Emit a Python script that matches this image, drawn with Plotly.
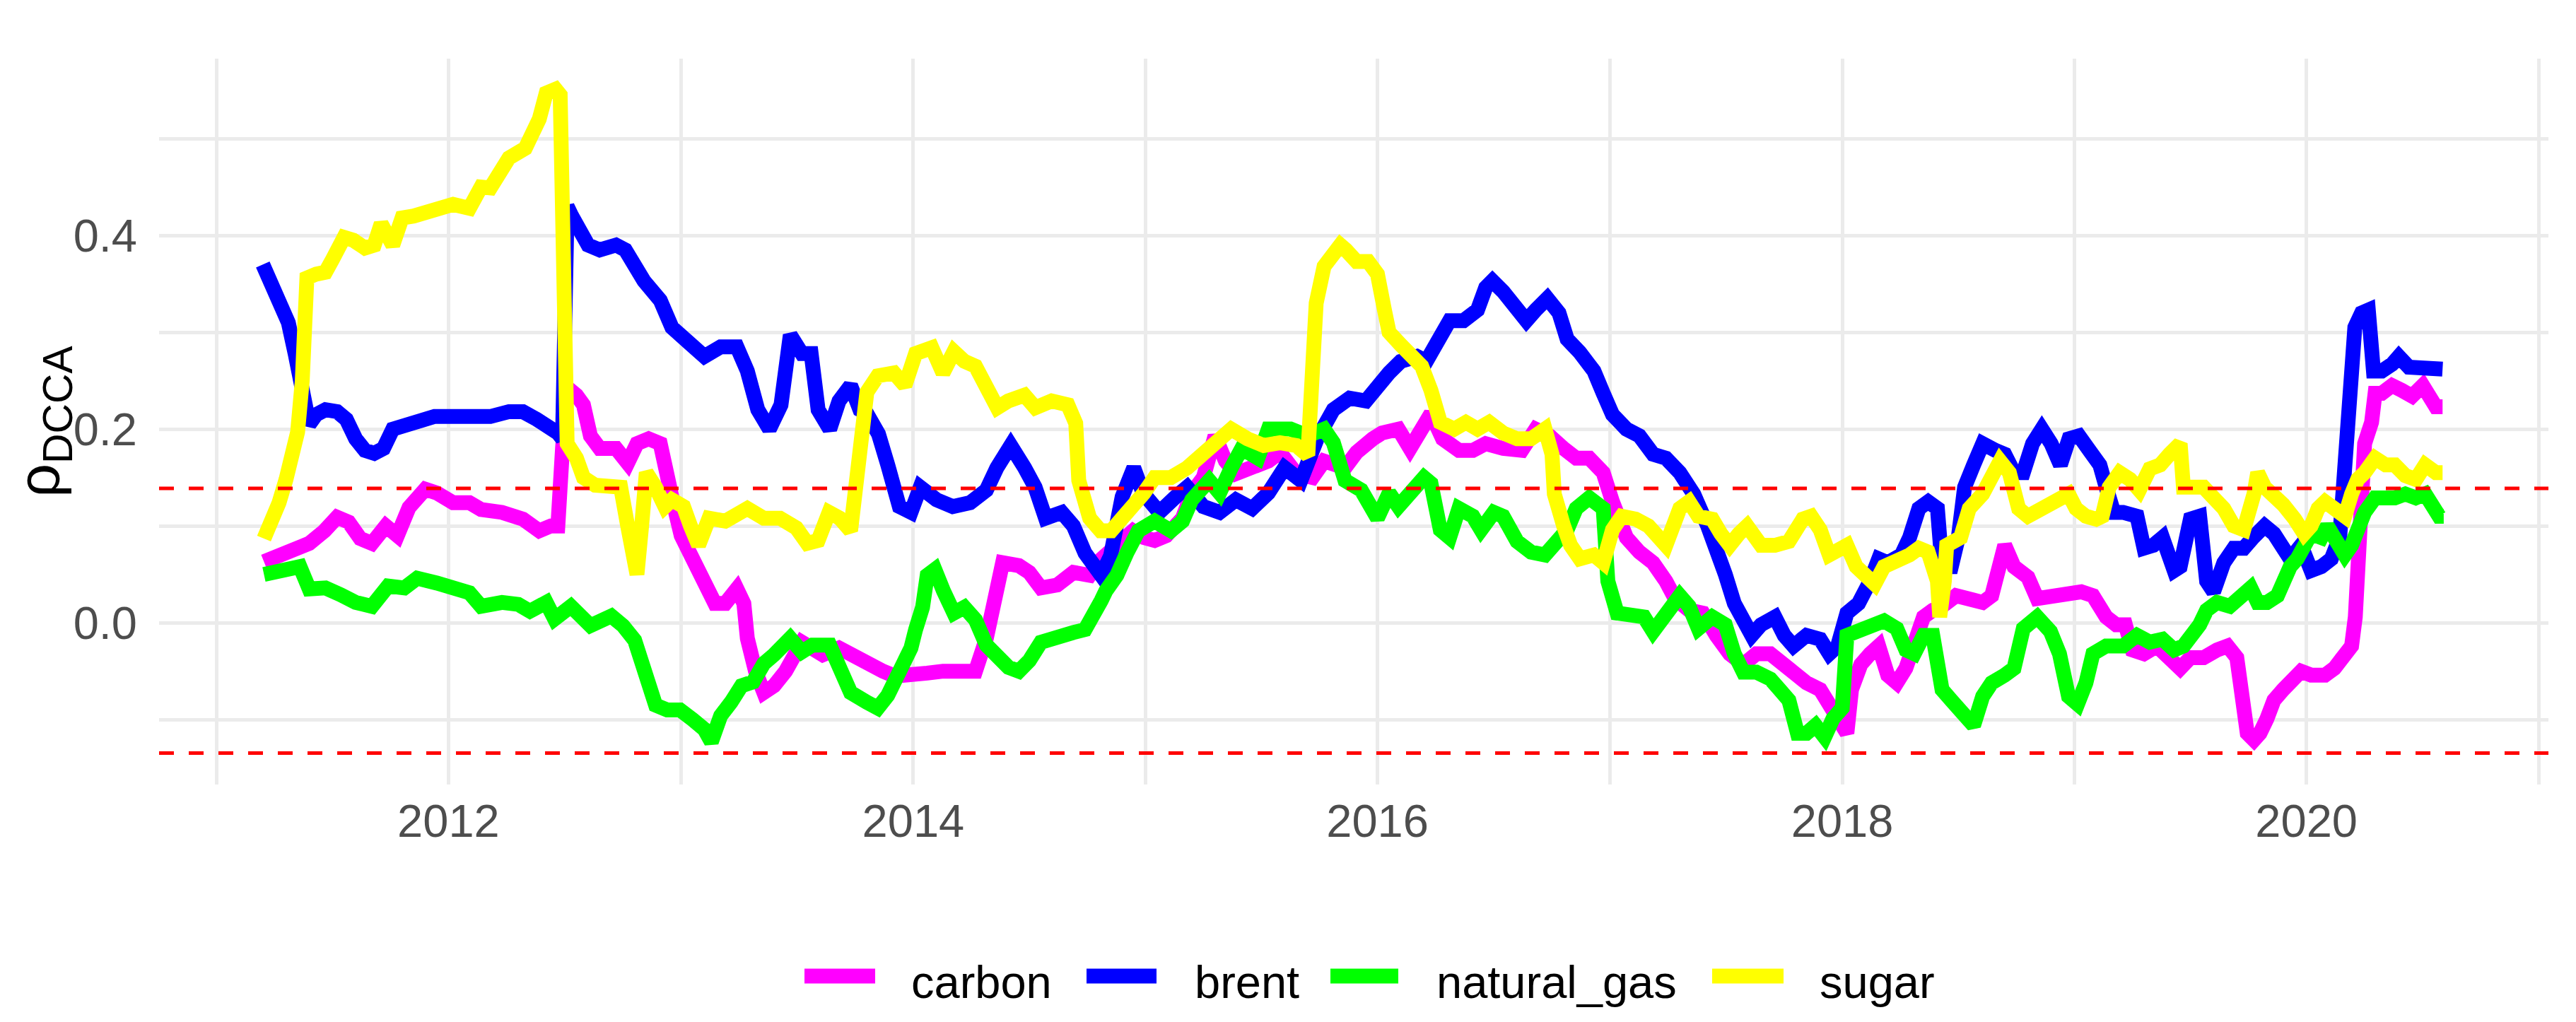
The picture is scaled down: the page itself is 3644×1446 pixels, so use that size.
import pandas as pd
import plotly.graph_objects as go

# ---------------- data (decimal year, value) ----------------
carbon_t = [2011.205, 2011.275, 2011.327, 2011.40, 2011.466, 2011.52, 2011.57, 2011.62, 2011.67, 2011.73,
            2011.78, 2011.83, 2011.90, 2011.95, 2012.02, 2012.09, 2012.14, 2012.23, 2012.32, 2012.39,
            2012.44, 2012.47, 2012.49, 2012.51, 2012.55, 2012.58, 2012.61, 2012.65, 2012.72, 2012.77,
            2012.81, 2012.86, 2012.91, 2012.94, 2012.96, 2013.00, 2013.05, 2013.10, 2013.145, 2013.19,
            2013.24, 2013.27, 2013.285, 2013.32, 2013.356, 2013.40, 2013.45, 2013.52, 2013.61, 2013.68,
            2013.75, 2013.82, 2013.87, 2013.92, 2013.99, 2014.06, 2014.128, 2014.20, 2014.268, 2014.315,
            2014.35, 2014.385, 2014.455, 2014.50, 2014.55, 2014.62, 2014.69, 2014.76, 2014.807, 2014.85,
            2014.90, 2014.947, 2014.994, 2015.04, 2015.09, 2015.16, 2015.20, 2015.25, 2015.30, 2015.345,
            2015.39, 2015.46, 2015.53, 2015.58, 2015.65, 2015.72, 2015.77, 2015.86, 2015.91, 2015.98,
            2016.02, 2016.09, 2016.14, 2016.19, 2016.23, 2016.28, 2016.35, 2016.41, 2016.465, 2016.54,
            2016.62, 2016.68, 2016.74, 2016.80, 2016.854, 2016.91, 2016.97, 2017.01, 2017.07, 2017.126,
            2017.185, 2017.24, 2017.28, 2017.34, 2017.40, 2017.457, 2017.515, 2017.574, 2017.63, 2017.69,
            2017.73, 2017.79, 2017.846, 2017.905, 2017.944, 2017.98, 2018.02, 2018.04, 2018.08, 2018.12,
            2018.157, 2018.196, 2018.235, 2018.274, 2018.31, 2018.35, 2018.39, 2018.43, 2018.49, 2018.547,
            2018.605, 2018.644, 2018.68, 2018.70, 2018.74, 2018.80, 2018.84, 2018.897, 2018.975, 2019.03,
            2019.08, 2019.11, 2019.137, 2019.18, 2019.22, 2019.25, 2019.30, 2019.355, 2019.41, 2019.456,
            2019.50, 2019.557, 2019.615, 2019.66, 2019.70, 2019.72, 2019.745, 2019.774, 2019.80, 2019.83,
            2019.86, 2019.90, 2019.93, 2019.977, 2020.02, 2020.08, 2020.12, 2020.165, 2020.194, 2020.21,
            2020.22, 2020.237, 2020.25, 2020.28, 2020.295, 2020.324, 2020.368, 2020.41, 2020.454, 2020.50,
            2020.527, 2020.556, 2020.585]
carbon_v = [0.063, 0.070, 0.078, 0.082, 0.095, 0.109, 0.104, 0.087, 0.082, 0.100,
            0.090, 0.119, 0.138, 0.134, 0.124, 0.124, 0.117, 0.114, 0.107, 0.095,
            0.100, 0.100, 0.180, 0.243, 0.235, 0.225, 0.193, 0.180, 0.180, 0.165,
            0.185, 0.190, 0.185, 0.160, 0.130, 0.090, 0.065, 0.042, 0.020, 0.020,
            0.035, 0.020, -0.016, -0.050, -0.072, -0.065, -0.050, -0.020, -0.033, -0.026,
            -0.036, -0.042, -0.050, -0.055, -0.052, -0.052, -0.050, -0.050, -0.050, -0.016,
            0.033, 0.062, 0.059, 0.052, 0.036, 0.039, 0.052, 0.049, 0.065, 0.075,
            0.082, 0.095, 0.088, 0.085, 0.090, 0.108, 0.134, 0.150, 0.193, 0.167,
            0.154, 0.160, 0.167, 0.176, 0.154, 0.150, 0.167, 0.160, 0.176, 0.190,
            0.196, 0.200, 0.180, 0.200, 0.216, 0.190, 0.178, 0.178, 0.185, 0.180,
            0.178, 0.200, 0.193, 0.180, 0.170, 0.170, 0.155, 0.125, 0.088, 0.073,
            0.062, 0.043, 0.025, 0.013, 0.010, -0.013, -0.032, -0.043, -0.032, -0.032,
            -0.040, -0.054, -0.062, -0.069, -0.084, -0.099, -0.114, -0.069, -0.043, -0.032,
            -0.024, -0.054, -0.062, -0.047, -0.024, 0.006, 0.013, 0.017, 0.028, 0.025,
            0.021, 0.028, 0.062, 0.080, 0.058, 0.047, 0.025, 0.028, 0.032, 0.032,
            0.028, 0.017, 0.006, -0.002, -0.002, -0.028, -0.032, -0.024, -0.039, -0.047,
            -0.036, -0.036, -0.028, -0.024, -0.036, -0.080, -0.114, -0.121, -0.114, -0.099,
            -0.080, -0.069, -0.062, -0.050, -0.054, -0.054, -0.047, -0.036, -0.024, 0.006,
            0.058, 0.155, 0.185, 0.207, 0.237, 0.237, 0.245, 0.240, 0.234, 0.245,
            0.234, 0.223, 0.223]

brent_t = [2011.20, 2011.23, 2011.25, 2011.28, 2011.31, 2011.34, 2011.37, 2011.40, 2011.43, 2011.47,
           2011.52, 2011.56, 2011.60, 2011.64, 2011.68, 2011.72, 2011.76, 2011.82, 2011.88, 2011.94,
           2012.00, 2012.10, 2012.18, 2012.26, 2012.32, 2012.38, 2012.42, 2012.47, 2012.49, 2012.50,
           2012.51, 2012.53, 2012.57, 2012.60, 2012.65, 2012.72, 2012.76, 2012.79, 2012.84, 2012.91,
           2012.96, 2013.03, 2013.10, 2013.17, 2013.24, 2013.285, 2013.33, 2013.38, 2013.43, 2013.47,
           2013.52, 2013.56, 2013.59, 2013.64, 2013.68, 2013.73, 2013.77, 2013.80, 2013.85, 2013.89,
           2013.94, 2013.99, 2014.03, 2014.10, 2014.17, 2014.245, 2014.315, 2014.36, 2014.42, 2014.48,
           2014.525, 2014.57, 2014.64, 2014.69, 2014.74, 2014.81, 2014.85, 2014.90, 2014.95, 2014.99,
           2015.06, 2015.13, 2015.18, 2015.25, 2015.32, 2015.39, 2015.46, 2015.53, 2015.60, 2015.67,
           2015.74, 2015.81, 2015.88, 2015.95, 2016.00, 2016.05, 2016.10, 2016.17, 2016.21, 2016.27,
           2016.31, 2016.37, 2016.43, 2016.465, 2016.494, 2016.54, 2016.59, 2016.64, 2016.68, 2016.73,
           2016.78, 2016.815, 2016.87, 2016.93, 2016.97, 2017.01, 2017.07, 2017.126, 2017.185, 2017.24,
           2017.30, 2017.36, 2017.42, 2017.457, 2017.496, 2017.535, 2017.574, 2017.61, 2017.65, 2017.71,
           2017.75, 2017.79, 2017.846, 2017.905, 2017.944, 2017.98, 2018.02, 2018.07, 2018.12, 2018.157,
           2018.196, 2018.255, 2018.29, 2018.33, 2018.37, 2018.41, 2018.43, 2018.47, 2018.50, 2018.527,
           2018.566, 2018.605, 2018.66, 2018.70, 2018.74, 2018.78, 2018.82, 2018.86, 2018.90, 2018.94,
           2018.977, 2019.02, 2019.065, 2019.11, 2019.137, 2019.17, 2019.21, 2019.27, 2019.30, 2019.34,
           2019.38, 2019.43, 2019.456, 2019.50, 2019.54, 2019.57, 2019.60, 2019.644, 2019.687, 2019.73,
           2019.77, 2019.82, 2019.86, 2019.90, 2019.93, 2019.977, 2020.02, 2020.064, 2020.107, 2020.143,
           2020.158, 2020.172, 2020.187, 2020.208, 2020.237, 2020.266, 2020.288, 2020.324, 2020.368, 2020.397,
           2020.44, 2020.483, 2020.527, 2020.57, 2020.585]
brent_v = [0.370, 0.355, 0.347, 0.330, 0.310, 0.277, 0.240, 0.205, 0.215, 0.220,
           0.218, 0.210, 0.190, 0.178, 0.175, 0.180, 0.200, 0.205, 0.210, 0.213,
           0.213, 0.212, 0.213, 0.218, 0.218, 0.210, 0.205, 0.196, 0.190, 0.300,
           0.430, 0.420, 0.404, 0.390, 0.385, 0.390, 0.385, 0.370, 0.353, 0.333,
           0.305, 0.290, 0.275, 0.285, 0.285, 0.260, 0.220, 0.200, 0.225, 0.297,
           0.278, 0.278, 0.220, 0.200, 0.229, 0.245, 0.220, 0.216, 0.195, 0.163,
           0.120, 0.114, 0.140, 0.127, 0.120, 0.124, 0.137, 0.160, 0.183, 0.160,
           0.140, 0.108, 0.114, 0.100, 0.072, 0.049, 0.069, 0.130, 0.160, 0.134,
           0.114, 0.130, 0.140, 0.120, 0.114, 0.127, 0.118, 0.134, 0.160, 0.147,
           0.190, 0.220, 0.232, 0.229, 0.245, 0.258, 0.270, 0.275, 0.270, 0.297,
           0.312, 0.312, 0.323, 0.346, 0.353, 0.342, 0.327, 0.312, 0.323, 0.335,
           0.320, 0.293, 0.279, 0.260, 0.237, 0.215, 0.200, 0.193, 0.174, 0.170,
           0.155, 0.133, 0.100, 0.080, 0.050, 0.020, -0.002, -0.013, -0.002, 0.006,
           -0.013, -0.024, -0.013, -0.017, -0.032, -0.024, 0.010, 0.020, 0.043, 0.066,
           0.062, 0.070, 0.088, 0.118, 0.125, 0.118, 0.058, 0.058, 0.088, 0.140,
           0.163, 0.185, 0.178, 0.174, 0.155, 0.155, 0.185, 0.200, 0.185, 0.163,
           0.190, 0.193, 0.178, 0.163, 0.140, 0.114, 0.114, 0.110, 0.077, 0.080,
           0.088, 0.054, 0.058, 0.107, 0.110, 0.043, 0.032, 0.062, 0.077, 0.077,
           0.088, 0.100, 0.092, 0.080, 0.066, 0.080, 0.054, 0.058, 0.066, 0.088,
           0.140, 0.211, 0.267, 0.305, 0.320, 0.323, 0.260, 0.260, 0.267, 0.275,
           0.264, 0.264, 0.264, 0.264, 0.262]

natural_gas_t = [2011.205, 2011.29, 2011.36, 2011.40, 2011.47, 2011.535, 2011.60, 2011.67, 2011.74, 2011.81,
                 2011.865, 2011.95, 2012.02, 2012.09, 2012.14, 2012.23, 2012.30, 2012.35, 2012.42, 2012.456,
                 2012.526, 2012.61, 2012.70, 2012.75, 2012.80, 2012.84, 2012.89, 2012.94, 2012.995, 2013.05,
                 2013.10, 2013.13, 2013.17, 2013.215, 2013.26, 2013.31, 2013.356, 2013.40, 2013.47, 2013.52,
                 2013.566, 2013.64, 2013.683, 2013.73, 2013.80, 2013.847, 2013.89, 2013.94, 2013.99, 2014.01,
                 2014.04, 2014.06, 2014.093, 2014.13, 2014.175, 2014.22, 2014.268, 2014.315, 2014.36, 2014.41,
                 2014.455, 2014.50, 2014.55, 2014.62, 2014.69, 2014.74, 2014.78, 2014.81, 2014.83, 2014.877,
                 2014.92, 2014.97, 2015.04, 2015.11, 2015.16, 2015.20, 2015.275, 2015.32, 2015.37, 2015.415,
                 2015.485, 2015.53, 2015.626, 2015.70, 2015.77, 2015.81, 2015.86, 2015.93, 2016.00, 2016.05,
                 2016.09, 2016.16, 2016.20, 2016.23, 2016.27, 2016.31, 2016.35, 2016.41, 2016.445, 2016.50,
                 2016.54, 2016.60, 2016.66, 2016.72, 2016.78, 2016.815, 2016.854, 2016.91, 2016.97, 2016.99,
                 2017.03, 2017.09, 2017.146, 2017.185, 2017.24, 2017.30, 2017.34, 2017.38, 2017.44, 2017.496,
                 2017.535, 2017.574, 2017.63, 2017.69, 2017.73, 2017.77, 2017.807, 2017.846, 2017.885, 2017.924,
                 2017.96, 2018.00, 2018.02, 2018.06, 2018.12, 2018.18, 2018.235, 2018.274, 2018.31, 2018.35,
                 2018.39, 2018.43, 2018.47, 2018.527, 2018.566, 2018.605, 2018.644, 2018.70, 2018.74, 2018.78,
                 2018.84, 2018.897, 2018.936, 2018.975, 2019.014, 2019.05, 2019.08, 2019.137, 2019.21, 2019.27,
                 2019.325, 2019.38, 2019.43, 2019.47, 2019.51, 2019.54, 2019.57, 2019.615, 2019.67, 2019.716,
                 2019.76, 2019.79, 2019.83, 2019.875, 2019.90, 2019.93, 2019.96, 2019.99, 2020.02, 2020.064,
                 2020.09, 2020.12, 2020.165, 2020.194, 2020.22, 2020.25, 2020.295, 2020.34, 2020.38, 2020.425,
                 2020.47, 2020.51, 2020.54, 2020.57, 2020.59]
natural_gas_v = [0.050, 0.053, 0.058, 0.035, 0.036, 0.029, 0.021, 0.017, 0.038, 0.036,
                 0.046, 0.041, 0.036, 0.031, 0.017, 0.021, 0.019, 0.012, 0.021, 0.004,
                 0.017, -0.003, 0.007, -0.003, -0.018, -0.047, -0.085, -0.090, -0.090, -0.100,
                 -0.110, -0.123, -0.096, -0.082, -0.065, -0.061, -0.042, -0.033, -0.016, -0.030,
                 -0.023, -0.023, -0.050, -0.072, -0.082, -0.088, -0.075, -0.050, -0.026, -0.007,
                 0.016, 0.049, 0.055, 0.033, 0.010, 0.016, 0.003, -0.023, -0.036, -0.046,
                 -0.050, -0.039, -0.020, -0.013, -0.010, -0.007, 0.007, 0.023, 0.033, 0.049,
                 0.072, 0.095, 0.105, 0.095, 0.105, 0.127, 0.147, 0.134, 0.160, 0.180,
                 0.170, 0.200, 0.200, 0.193, 0.200, 0.186, 0.147, 0.137, 0.108, 0.134,
                 0.120, 0.140, 0.150, 0.144, 0.096, 0.088, 0.118, 0.110, 0.096, 0.114,
                 0.110, 0.084, 0.073, 0.070, 0.088, 0.096, 0.118, 0.129, 0.118, 0.043,
                 0.010, 0.006, 0.006, -0.009, 0.006, 0.028, 0.017, -0.006, 0.006, -0.002,
                 -0.032, -0.051, -0.051, -0.058, -0.069, -0.080, -0.114, -0.114, -0.106, -0.118,
                 -0.099, -0.088, -0.013, -0.009, -0.002, 0.002, -0.006, -0.028, -0.032, -0.013,
                 -0.013, -0.069, -0.080, -0.099, -0.106, -0.076, -0.062, -0.054, -0.047, -0.006,
                 0.006, -0.009, -0.032, -0.076, -0.084, -0.062, -0.032, -0.024, -0.024, -0.013,
                 -0.020, -0.017, -0.028, -0.024, -0.013, -0.002, 0.013, 0.021, 0.017, 0.028,
                 0.036, 0.021, 0.021, 0.028, 0.043, 0.058, 0.066, 0.077, 0.092, 0.088,
                 0.100, 0.088, 0.070, 0.080, 0.096, 0.114, 0.129, 0.129, 0.129, 0.133,
                 0.129, 0.133, 0.122, 0.110, 0.110]

sugar_t = [2011.205, 2011.24, 2011.27, 2011.30, 2011.33, 2011.35, 2011.37, 2011.39, 2011.43, 2011.47,
           2011.50, 2011.55, 2011.59, 2011.64, 2011.68, 2011.71, 2011.76, 2011.80, 2011.85, 2011.92,
           2012.02, 2012.09, 2012.14, 2012.18, 2012.23, 2012.26, 2012.33, 2012.39, 2012.42, 2012.46,
           2012.48, 2012.49, 2012.50, 2012.51, 2012.55, 2012.58, 2012.63, 2012.68, 2012.74, 2012.77,
           2012.79, 2012.81, 2012.83, 2012.85, 2012.89, 2012.93, 2012.96, 2013.01, 2013.04, 2013.075,
           2013.12, 2013.19, 2013.285, 2013.356, 2013.426, 2013.496, 2013.543, 2013.59, 2013.637, 2013.683,
           2013.73, 2013.754, 2013.777, 2013.80, 2013.847, 2013.917, 2013.964, 2014.01, 2014.08, 2014.128,
           2014.175, 2014.22, 2014.268, 2014.315, 2014.362, 2014.409, 2014.479, 2014.526, 2014.596, 2014.666,
           2014.70, 2014.713, 2014.76, 2014.807, 2014.853, 2014.90, 2014.947, 2014.994, 2015.04, 2015.11,
           2015.18, 2015.25, 2015.32, 2015.37, 2015.44, 2015.51, 2015.58, 2015.65, 2015.70, 2015.71,
           2015.736, 2015.77, 2015.806, 2015.84, 2015.864, 2015.91, 2015.96, 2016.00, 2016.03, 2016.05,
           2016.10, 2016.14, 2016.19, 2016.23, 2016.27, 2016.33, 2016.38, 2016.43, 2016.48, 2016.54,
           2016.60, 2016.66, 2016.72, 2016.75, 2016.76, 2016.80, 2016.83, 2016.87, 2016.93, 2016.97,
           2017.01, 2017.05, 2017.11, 2017.165, 2017.20, 2017.24, 2017.30, 2017.34, 2017.38, 2017.44,
           2017.477, 2017.515, 2017.555, 2017.59, 2017.65, 2017.71, 2017.77, 2017.83, 2017.866, 2017.905,
           2017.944, 2017.98, 2018.02, 2018.06, 2018.10, 2018.14, 2018.18, 2018.235, 2018.29, 2018.33,
           2018.37, 2018.41, 2018.42, 2018.44, 2018.45, 2018.51, 2018.547, 2018.605, 2018.644, 2018.68,
           2018.72, 2018.76, 2018.80, 2018.86, 2018.92, 2018.975, 2019.007, 2019.05, 2019.094, 2019.12,
           2019.15, 2019.195, 2019.24, 2019.28, 2019.325, 2019.37, 2019.41, 2019.456, 2019.47, 2019.51,
           2019.557, 2019.60, 2019.644, 2019.687, 2019.73, 2019.774, 2019.79, 2019.82, 2019.86, 2019.90,
           2019.95, 2019.99, 2020.02, 2020.05, 2020.08, 2020.12, 2020.165, 2020.194, 2020.22, 2020.25,
           2020.295, 2020.34, 2020.38, 2020.425, 2020.47, 2020.51, 2020.556, 2020.585]
sugar_v = [0.087, 0.104, 0.124, 0.148, 0.173, 0.197, 0.250, 0.356, 0.360, 0.362,
           0.375, 0.398, 0.395, 0.387, 0.390, 0.412, 0.390, 0.418, 0.420, 0.425,
           0.432, 0.428, 0.450, 0.449, 0.465, 0.480, 0.490, 0.520, 0.547, 0.551,
           0.545, 0.350, 0.200, 0.185, 0.170, 0.150, 0.142, 0.142, 0.140, 0.100,
           0.060, 0.050, 0.100, 0.155, 0.140, 0.120, 0.127, 0.120, 0.100, 0.080,
           0.108, 0.105, 0.118, 0.108, 0.108, 0.098, 0.082, 0.085, 0.114, 0.108,
           0.095, 0.140, 0.193, 0.238, 0.255, 0.258, 0.245, 0.278, 0.284, 0.258,
           0.280, 0.270, 0.265, 0.245, 0.222, 0.229, 0.235, 0.222, 0.229, 0.225,
           0.206, 0.147, 0.108, 0.095, 0.095, 0.108, 0.120, 0.134, 0.150, 0.150,
           0.160, 0.173, 0.190, 0.200, 0.190, 0.183, 0.186, 0.183, 0.173, 0.220,
           0.330, 0.368, 0.378, 0.390, 0.385, 0.373, 0.373, 0.360, 0.323, 0.300,
           0.287, 0.275, 0.265, 0.240, 0.207, 0.200, 0.207, 0.200, 0.207, 0.196,
           0.190, 0.190, 0.200, 0.174, 0.133, 0.100, 0.080, 0.066, 0.070, 0.062,
           0.096, 0.110, 0.107, 0.100, 0.088, 0.080, 0.118, 0.125, 0.110, 0.107,
           0.092, 0.080, 0.092, 0.100, 0.080, 0.080, 0.084, 0.107, 0.110, 0.096,
           0.070, 0.073, 0.080, 0.058, 0.047, 0.040, 0.058, 0.062, 0.070, 0.077,
           0.073, 0.043, 0.006, 0.043, 0.080, 0.088, 0.118, 0.133, 0.152, 0.167,
           0.155, 0.118, 0.110, 0.118, 0.125, 0.133, 0.118, 0.110, 0.107, 0.110,
           0.140, 0.155, 0.148, 0.137, 0.159, 0.163, 0.174, 0.185, 0.140, 0.140,
           0.140, 0.129, 0.118, 0.100, 0.096, 0.133, 0.155, 0.140, 0.133, 0.122,
           0.107, 0.092, 0.100, 0.118, 0.125, 0.118, 0.110, 0.133, 0.148, 0.155,
           0.170, 0.163, 0.163, 0.152, 0.148, 0.163, 0.155, 0.155]

series_names = ["carbon", "brent", "natural_gas", "sugar"]
series_colors = ["#FF00FF", "#0000FF", "#00FF00", "#FFFF00"]
threshold_values = [0.1387, -0.1345]
y_tick_values = [0.0, 0.2, 0.4]
y_tick_labels = ["0.0", "0.2", "0.4"]

# ---------------- layout constants (pixels in the 3644x1446 canvas) ----------------
W, H = 3644, 1446
ML, MR, MT, MB = 217, 47, 75, 344
PW, PH = W - ML - MR, H - MT - MB
LEG_KEYS = [(1130, 1230), (1529, 1628), (1874, 1970), (2414, 2515)]   # key x-extent
LEG_TEXT_X = [1279, 1680, 2022, 2564]
LEG_KEY_Y, LEG_TEXT_Y = 1373, 1381


def px_to_paper_x(px):
    return (px - ML) / PW


def px_to_paper_y(py):
    return (H - MB - py) / PH


def to_date(y):
    yr = int(y)
    start = pd.Timestamp(yr, 1, 1)
    end = pd.Timestamp(yr + 1, 1, 1)
    return start + (end - start) * (y - yr)


series = [(carbon_t, carbon_v), (brent_t, brent_v), (natural_gas_t, natural_gas_v), (sugar_t, sugar_v)]

FONT = "Liberation Sans, Arial, sans-serif"
LINE_W = 21
fig = go.Figure()
for name, color, (t, v) in zip(series_names, series_colors, series):
    fig.add_trace(go.Scatter(
        x=[to_date(a) for a in t], y=v, mode="lines", name=name,
        line=dict(color=color, width=LINE_W), showlegend=False,
    ))

for th in threshold_values:
    fig.add_hline(y=th, line=dict(color="#FF0000", width=5, dash="21px,21px"), layer="above")

# legend (ggplot-style: thick line keys + labels below the panel)
for name, color, (k0, k1), tx in zip(series_names, series_colors, LEG_KEYS, LEG_TEXT_X):
    fig.add_shape(type="line", xref="paper", yref="paper",
                  x0=px_to_paper_x(k0), x1=px_to_paper_x(k1),
                  y0=px_to_paper_y(LEG_KEY_Y), y1=px_to_paper_y(LEG_KEY_Y),
                  line=dict(color=color, width=LINE_W))
    fig.add_annotation(text=name, xref="paper", yref="paper",
                       x=px_to_paper_x(tx), y=px_to_paper_y(LEG_TEXT_Y),
                       xanchor="left", yanchor="middle", showarrow=False,
                       font=dict(size=65, color="#000000", family=FONT))

fig.update_layout(
    width=W, height=H,
    margin=dict(l=ML, r=MR, t=MT, b=MB, autoexpand=False),
    paper_bgcolor="white", plot_bgcolor="white",
    font=dict(family=FONT, size=65, color="#000000"),
    showlegend=False,
)

fig.update_xaxes(
    type="date", range=[to_date(2010.753), to_date(2021.04)],
    tick0="2012-01-01", dtick="M24", tickformat="%Y",
    showgrid=True, gridcolor="#EBEBEB", gridwidth=4.5,
    minor=dict(dtick="M12", tick0="2011-01-01", showgrid=True, gridcolor="#EBEBEB", gridwidth=4.5),
    showline=False, zeroline=False, ticks="",
    tickfont=dict(size=65, color="#4D4D4D", family=FONT),
    ticklabelstandoff=8, automargin=False,
)
fig.update_yaxes(
    range=[-0.167, 0.5825],
    tickvals=y_tick_values, ticktext=y_tick_labels,
    showgrid=True, gridcolor="#EBEBEB", gridwidth=4.5,
    minor=dict(tickvals=[-0.1, 0.1, 0.3, 0.5], showgrid=True, gridcolor="#EBEBEB", gridwidth=4.5),
    showline=False, zeroline=False, ticks="",
    tickfont=dict(size=65, color="#4D4D4D", family=FONT),
    ticklabelstandoff=30, automargin=False,
    title=dict(text="ρ<sub>DCCA</sub>", font=dict(size=84, color="#000000", family=FONT), standoff=20),
)

fig.write_html("out.html")
